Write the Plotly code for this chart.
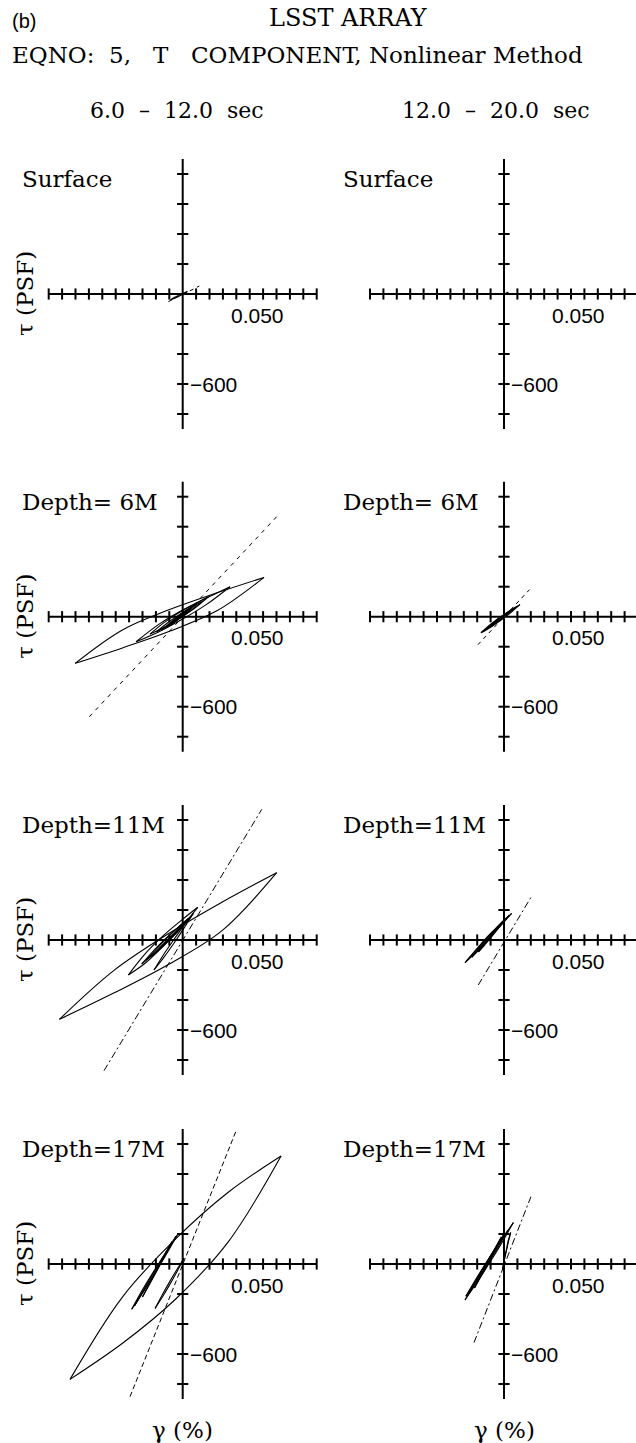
import plotly.graph_objects as go

W, H = 636, 1443

# ------------------------------------------------------------------ data
X_TICKS = [-0.10, -0.09, -0.08, -0.07, -0.06, -0.05, -0.04, -0.03, -0.02, -0.01,
           0.01, 0.02, 0.03, 0.04, 0.05, 0.06, 0.07, 0.08, 0.09, 0.10]
Y_TICKS = [-800, -600, -400, -200, 200, 400, 600, 800]
X_AXIS_SPAN = [-0.10, 0.10]
Y_AXIS_SPAN = [-900, 900]
X_TICK_LABEL = "0.050"
Y_TICK_LABEL = "\u2212600"

COLUMN_TITLES = ["6.0\u00a0\u00a0\u2013\u00a0\u00a012.0\u00a0\u00a0sec",
                 "12.0\u00a0\u00a0\u2013\u00a0\u00a020.0\u00a0\u00a0sec"]
ROW_LABELS = ["Surface", "Depth=\u00a06M", "Depth=11M", "Depth=17M"]
HEADER_WORDS = ["EQNO:", "5,", "T", "COMPONENT, Nonlinear Method"]

# loops: [L, upper arc (3 pts), R, lower arc (3 pts), L]  gamma in %, tau in PSF
surf_l_loops_x = [[-0.0090, -0.0060, -0.0030, 0.0003, 0.0035, 0.0006, -0.0024, -0.0055, -0.0090]]
surf_l_loops_y = [[-38, -22, -9, 5, 17, 1, -13, -27, -38]]
surf_l_ref = ([-0.0107, 0.0124], [-51, 53])

surf_r_loops_x = [[-0.0005, 0.0004, 0.0013, 0.0022, 0.0032, 0.0023, 0.0014, 0.0005, -0.0005]]
surf_r_loops_y = [[-2, 2, 5, 8, 11, 7, 4, 1, -2]]
surf_r_ref = None

d6_l_loops_x = [
    [-0.0803, -0.0450, -0.0098, 0.0255, 0.0607, 0.0255, -0.0098, -0.0450, -0.0803],
    [-0.0348, -0.0173, 0.0003, 0.0178, 0.0353, 0.0178, 0.0003, -0.0173, -0.0348],
    [-0.0244, -0.0135, -0.0026, 0.0083, 0.0192, 0.0083, -0.0026, -0.0135, -0.0244],
    [-0.0194, -0.0110, -0.0026, 0.0058, 0.0142, 0.0058, -0.0026, -0.0110, -0.0194],
    [-0.0157, -0.0092, -0.0027, 0.0039, 0.0104, 0.0039, -0.0027, -0.0092, -0.0157],
    [-0.0132, -0.0082, -0.0033, 0.0017, 0.0067, 0.0017, -0.0033, -0.0082, -0.0132],
    [-0.0107, -0.0071, -0.0036, 0.0000, 0.0035, 0.0000, -0.0036, -0.0071, -0.0107],
    [-0.0082, -0.0057, -0.0033, -0.0008, 0.0017, -0.0008, -0.0033, -0.0057, -0.0082],
]
d6_l_loops_y = [
    [-311, -88, 48, 159, 262, 39, -97, -208, -311],
    [-167, -48, 46, 124, 200, 82, -14, -98, -167],
    [-116, -36, 28, 82, 133, 53, -11, -69, -116],
    [-100, -39, 14, 61, 100, 39, -14, -61, -100],
    [-89, -38, 8, 49, 84, 33, -13, -54, -89],
    [-78, -37, 0, 33, 62, 21, -16, -49, -78],
    [-62, -32, -5, 19, 40, 10, -17, -41, -62],
    [-49, -26, -6, 12, 27, 4, -16, -34, -49],
]
d6_l_ref = ([-0.0697, 0.0706], [-667, 671])

d6_r_loops_x = [
    [-0.0172, -0.0099, -0.0027, 0.0046, 0.0119, 0.0046, -0.0027, -0.0099, -0.0172],
    [-0.0160, -0.0095, -0.0030, 0.0035, 0.0100, 0.0035, -0.0030, -0.0095, -0.0160],
    [-0.0140, -0.0085, -0.0030, 0.0025, 0.0080, 0.0025, -0.0030, -0.0085, -0.0140],
    [-0.0120, -0.0075, -0.0030, 0.0015, 0.0060, 0.0015, -0.0030, -0.0075, -0.0120],
]
d6_r_loops_y = [
    [-107, -50, -2, 42, 80, 24, -26, -70, -107],
    [-100, -51, -7, 34, 70, 22, -23, -64, -100],
    [-88, -47, -9, 26, 58, 17, -21, -56, -88],
    [-76, -40, -8, 22, 48, 14, -18, -46, -76],
]
d6_r_ref = ([-0.0195, 0.0190], [-187, 180])

d11_l_loops_x = [
    [-0.0920, -0.0515, -0.0110, 0.0296, 0.0701, 0.0296, -0.0110, -0.0515, -0.0920],
    [-0.0405, -0.0276, -0.0147, -0.0017, 0.0112, -0.0017, -0.0147, -0.0276, -0.0405],
    [-0.0214, -0.0141, -0.0067, 0.0006, 0.0080, 0.0006, -0.0067, -0.0141, -0.0214],
    [-0.0306, -0.0213, -0.0120, -0.0026, 0.0067, -0.0026, -0.0120, -0.0213, -0.0306],
    [-0.0269, -0.0191, -0.0114, -0.0036, 0.0042, -0.0036, -0.0114, -0.0191, -0.0269],
    [-0.0231, -0.0169, -0.0107, -0.0045, 0.0017, -0.0045, -0.0107, -0.0169, -0.0231],
]
d11_l_loops_y = [
    [-529, -204, 40, 254, 449, 64, -165, -354, -529],
    [-233, -88, 27, 126, 218, 78, -42, -152, -233],
    [-200, -95, 1, 92, 178, 74, -23, -116, -200],
    [-160, -67, 15, 91, 160, 69, -15, -91, -160],
    [-133, -56, 16, 83, 144, 67, -5, -72, -133],
    [-111, -50, 7, 61, 111, 50, -7, -61, -111],
]
d11_l_ref = ([-0.0587, 0.0590], [-871, 871])

d11_r_loops_x = [
    [-0.0291, -0.0204, -0.0117, -0.0030, 0.0057, -0.0030, -0.0117, -0.0204, -0.0291],
    [-0.0280, -0.0200, -0.0120, -0.0040, 0.0040, -0.0040, -0.0120, -0.0200, -0.0280],
    [-0.0240, -0.0178, -0.0115, -0.0053, 0.0010, -0.0053, -0.0115, -0.0178, -0.0240],
    [-0.0190, -0.0143, -0.0095, -0.0048, 0.0000, -0.0048, -0.0095, -0.0143, -0.0190],
]
d11_r_loops_y = [
    [-151, -63, 22, 102, 178, 90, 6, -75, -151],
    [-140, -55, 25, 98, 165, 80, 1, -73, -140],
    [-115, -45, 21, 82, 140, 70, 5, -57, -115],
    [-80, -23, 31, 82, 130, 73, 19, -32, -80],
]
d11_r_ref = ([-0.0192, 0.0201], [-300, 284])

d17_l_loops_x = [
    [-0.0841, -0.0447, -0.0054, 0.0340, 0.0734, 0.0340, -0.0054, -0.0447, -0.0841],
    [-0.0381, -0.0296, -0.0211, -0.0125, -0.0040, -0.0125, -0.0211, -0.0296, -0.0381],
    [-0.0360, -0.0283, -0.0205, -0.0128, -0.0050, -0.0128, -0.0205, -0.0283, -0.0360],
    [-0.0300, -0.0245, -0.0190, -0.0135, -0.0080, -0.0135, -0.0190, -0.0245, -0.0300],
    [-0.0206, -0.0152, -0.0098, -0.0044, 0.0010, -0.0044, -0.0098, -0.0152, -0.0206],
]
d17_l_loops_y = [
    [-769, -217, 166, 478, 720, 148, -235, -527, -769],
    [-302, -166, -42, 78, 193, 60, -67, -187, -302],
    [-280, -158, -40, 75, 185, 63, -55, -170, -280],
    [-220, -123, -29, 62, 150, 53, -41, -132, -220],
    [-296, -205, -119, -38, 38, -53, -139, -220, -296],
]
d17_l_ref = ([-0.0393, 0.0403], [-884, 898])

d17_r_loops_x = [
    [-0.0291, -0.0201, -0.0111, -0.0020, 0.0070, -0.0020, -0.0111, -0.0201, -0.0291],
    [-0.0285, -0.0206, -0.0128, -0.0049, 0.0030, -0.0049, -0.0128, -0.0206, -0.0285],
    [-0.0260, -0.0195, -0.0130, -0.0065, 0.0000, -0.0065, -0.0130, -0.0195, -0.0260],
    [-0.0220, -0.0170, -0.0120, -0.0070, -0.0020, -0.0070, -0.0120, -0.0170, -0.0220],
    [-0.0010, 0.0005, 0.0020, 0.0035, 0.0050, 0.0030, 0.0015, 0.0000, -0.0010],
]
d17_r_loops_y = [
    [-240, -100, 33, 158, 276, 136, 3, -122, -240],
    [-215, -96, 17, 124, 225, 106, -7, -114, -215],
    [-195, -90, 11, 107, 200, 95, -6, -102, -195],
    [-160, -70, 16, 100, 180, 90, 4, -80, -160],
    [-30, 35, 95, 155, 210, 150, 85, 25, -30],
]
d17_r_ref = ([-0.0224, 0.0201], [-524, 449])

# ------------------------------------------------------------------ layout constants
SERIF = "DejaVu Serif"
SANS = "Liberation Sans"
COL_OX = [182.7, 504.0]                 # pixel x of each column's origin
ROW_OY = [294.0, 616.7, 940.0, 1264.0]  # pixel y of each row's origin
PX_PER_X = 1340.0                       # pixels per 1 (%)
PX_PER_Y = 0.15                         # pixels per PSF
X_PAD = 0.11
Y_PAD = 1000

panels = [
    (0, 0, surf_l_loops_x, surf_l_loops_y, surf_l_ref, "4px,4px"),
    (0, 1, surf_r_loops_x, surf_r_loops_y, surf_r_ref, "4px,4px"),
    (1, 0, d6_l_loops_x, d6_l_loops_y, d6_l_ref, "4px,5px"),
    (1, 1, d6_r_loops_x, d6_r_loops_y, d6_r_ref, "4px,4px"),
    (2, 0, d11_l_loops_x, d11_l_loops_y, d11_l_ref, "7px,3px,2px,3px"),
    (2, 1, d11_r_loops_x, d11_r_loops_y, d11_r_ref, "7px,3px,2px,3px"),
    (3, 0, d17_l_loops_x, d17_l_loops_y, d17_l_ref, "5px,3px"),
    (3, 1, d17_r_loops_x, d17_r_loops_y, d17_r_ref, "7px,3px,2px,3px"),
]

fig = go.Figure()
layout_axes = {}
annotations = []


def px_x(px):
    return px / W


def px_y(py):
    return 1 - py / H


for k, (r, c, lx, ly, ref, dash) in enumerate(panels, start=1):
    ox, oy = COL_OX[c], ROW_OY[r]
    left_px = ox - X_PAD * PX_PER_X
    right_px = min(ox + X_PAD * PX_PER_X, W)
    x_range = [(left_px - ox) / PX_PER_X, (right_px - ox) / PX_PER_X]
    top_px = oy - Y_PAD * PX_PER_Y
    bot_px = oy + Y_PAD * PX_PER_Y
    xa = "xaxis" if k == 1 else f"xaxis{k}"
    ya = "yaxis" if k == 1 else f"yaxis{k}"
    xr = "x" if k == 1 else f"x{k}"
    yr = "y" if k == 1 else f"y{k}"
    layout_axes[xa] = dict(domain=[px_x(left_px), px_x(right_px)], range=x_range,
                           visible=False, anchor=yr, fixedrange=True)
    layout_axes[ya] = dict(domain=[px_y(bot_px), px_y(top_px)], range=[-Y_PAD, Y_PAD],
                           visible=False, anchor=xr, fixedrange=True)

    # cross-shaped axes
    fig.add_trace(go.Scatter(x=X_AXIS_SPAN, y=[0, 0], mode="lines",
                             line=dict(color="black", width=2), xaxis=xr, yaxis=yr,
                             hoverinfo="skip"))
    fig.add_trace(go.Scatter(x=[0, 0], y=Y_AXIS_SPAN, mode="lines",
                             line=dict(color="black", width=2), xaxis=xr, yaxis=yr,
                             hoverinfo="skip"))
    fig.add_trace(go.Scatter(x=X_TICKS, y=[0] * len(X_TICKS), mode="markers",
                             marker=dict(symbol="line-ns", size=8,
                                         line=dict(color="black", width=2)),
                             xaxis=xr, yaxis=yr, hoverinfo="skip", cliponaxis=False))
    fig.add_trace(go.Scatter(x=[0] * len(Y_TICKS), y=Y_TICKS, mode="markers",
                             marker=dict(symbol="line-ew", size=8,
                                         line=dict(color="black", width=2)),
                             xaxis=xr, yaxis=yr, hoverinfo="skip", cliponaxis=False))

    # reference (initial modulus) line
    if ref is not None:
        fig.add_trace(go.Scatter(x=ref[0], y=ref[1], mode="lines",
                                 line=dict(color="black", width=1, dash=dash),
                                 xaxis=xr, yaxis=yr, hoverinfo="skip"))

    # hysteresis loops, each split into its two branches
    sx, sy = [], []
    for xs, ys in zip(lx, ly):
        sx += xs[0:5] + [None] + xs[4:9] + [None]
        sy += ys[0:5] + [None] + ys[4:9] + [None]
    fig.add_trace(go.Scatter(x=sx, y=sy, mode="lines",
                             line=dict(color="black", width=1.1, shape="spline",
                                       smoothing=1.0),
                             connectgaps=False, xaxis=xr, yaxis=yr, hoverinfo="skip"))

    # tick labels
    annotations.append(dict(text=X_TICK_LABEL, xref=xr, yref=yr, x=0.0556, y=-140,
                            showarrow=False, xanchor="center", yanchor="middle",
                            font=dict(family=SANS, size=21, color="black")))
    annotations.append(dict(text=Y_TICK_LABEL, xref=xr, yref=yr, x=0, y=-600,
                            xshift=5, showarrow=False, xanchor="left", yanchor="middle",
                            font=dict(family=SANS, size=21, color="black")))
    # row label
    annotations.append(dict(text=ROW_LABELS[r], xref="paper", yref="paper",
                            x=px_x(ox - 163), y=px_y(oy - 115), showarrow=False,
                            xanchor="left", yanchor="middle",
                            font=dict(family=SERIF, size=23, color="black")))
    if c == 0:
        annotations.append(dict(text="\u03c4\u00a0(PSF)", xref="paper", yref="paper",
                                x=px_x(25), y=px_y(oy), textangle=-90, showarrow=False,
                                xanchor="center", yanchor="middle",
                                font=dict(family=SERIF, size=23, color="black")))

# bottom axis titles and column titles
for c in range(2):
    annotations.append(dict(text="\u03b3\u00a0(%)", xref="paper", yref="paper",
                            x=px_x(COL_OX[c]), y=px_y(1430), showarrow=False,
                            xanchor="center", yanchor="middle",
                            font=dict(family=SERIF, size=23, color="black")))
    annotations.append(dict(text=COLUMN_TITLES[c], xref="paper", yref="paper",
                            x=px_x([177, 496][c]), y=px_y(111), showarrow=False,
                            xanchor="center", yanchor="middle",
                            font=dict(family=SERIF, size=22, color="black")))

annotations.append(dict(text="(b)", xref="paper", yref="paper", x=px_x(10), y=px_y(21),
                        showarrow=False, xanchor="left", yanchor="middle",
                        font=dict(family=SANS, size=20, color="black")))
annotations.append(dict(text="LSST ARRAY", xref="paper", yref="paper", x=px_x(348),
                        y=px_y(18), showarrow=False, xanchor="center", yanchor="middle",
                        font=dict(family=SERIF, size=24, color="black")))
for word, left in zip(HEADER_WORDS, [10, 107, 151, 189]):
    annotations.append(dict(text=word, xref="paper", yref="paper", x=px_x(left),
                            y=px_y(55), showarrow=False, xanchor="left",
                            yanchor="middle",
                            font=dict(family=SERIF, size=23, color="black")))

fig.update_layout(width=W, height=H, margin=dict(l=0, r=0, t=0, b=0),
                  paper_bgcolor="white", plot_bgcolor="white", showlegend=False,
                  annotations=annotations, **layout_axes)

fig.write_html("out.html", config={"displayModeBar": False})
